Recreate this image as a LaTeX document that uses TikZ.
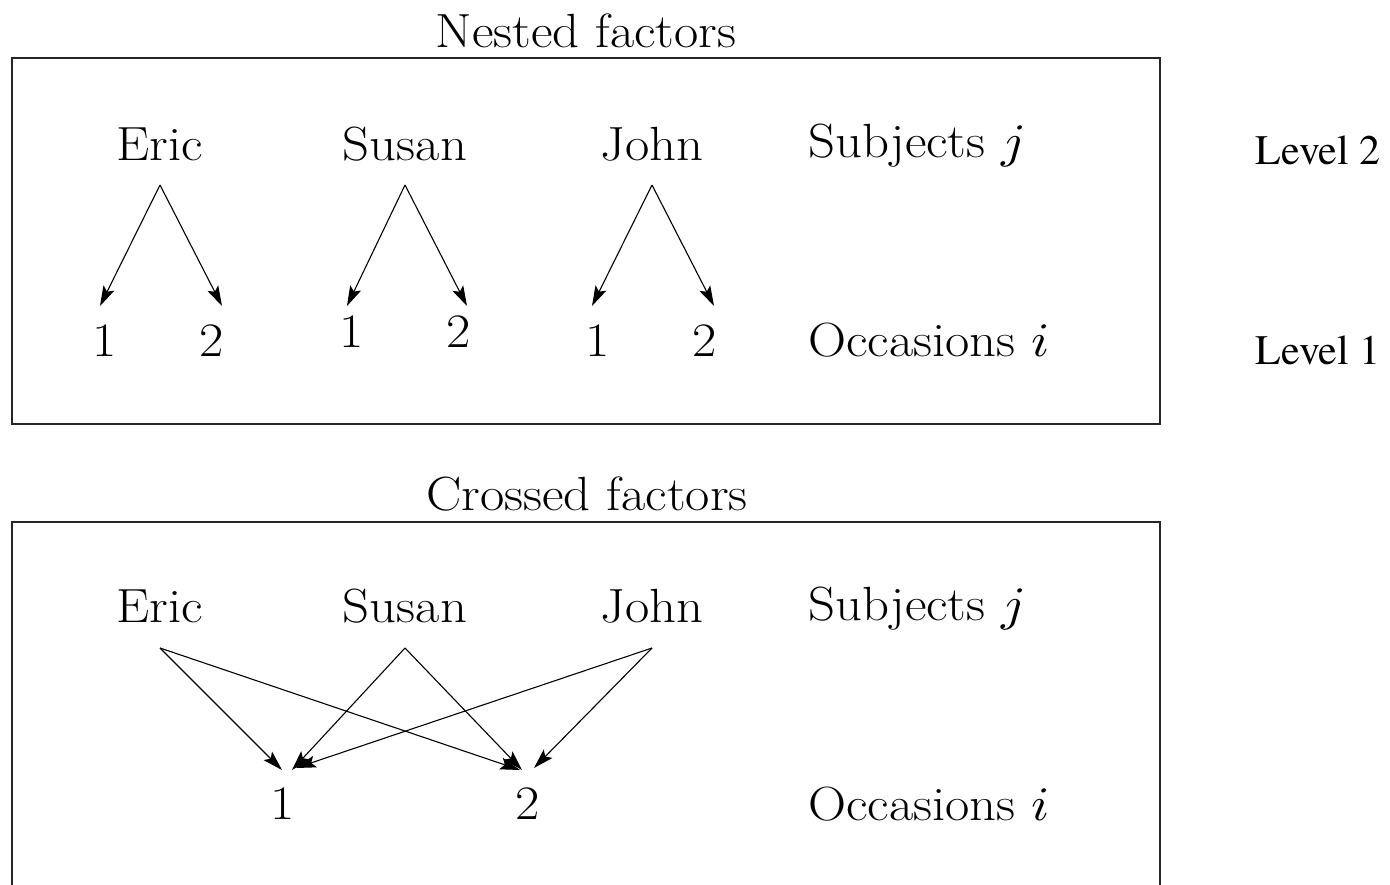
\documentclass[tikz,border=0pt]{standalone}
\usepackage{unicode-math}
\setmathfont{Latin Modern Math}
\newfontfamily\timesfont{texgyretermes-regular.otf}
\usetikzlibrary{arrows.meta}
\begin{document}
\begin{tikzpicture}[x=1pt,y=-1pt,
  lbl/.style={inner sep=0pt,font=\fontsize{48}{56}\selectfont,xscale=1.1,transform shape},
  lvl/.style={inner sep=0pt,font=\timesfont\fontsize{42}{50}\selectfont},
  frame/.style={line width=1.4pt,draw=black!85},
  arr/.style={line width=1.1pt,-{Stealth[length=20pt,width=12pt,inset=4pt]}}]
\useasboundingbox (0,0) rectangle (1390,885);
% titles and frames
\node[lbl] (tnest) at (586,31) {Nested factors};
\node[lbl] (tcross) at (587,494) {Crossed factors};
\draw[frame] (12,58) rectangle (1160,424);
\draw[frame] (12,895) -- (12,522) -- (1160,522) -- (1160,895);
% nested
\node[lbl,anchor=base] (e1) at (160,161) {Eric};
\node[lbl,anchor=base] (s1) at (405,161) {Susan};
\node[lbl,anchor=base] (j1) at (652,161) {John};
\node[lbl,anchor=base west] (subj1) at (808,158) {Subjects $j$};
\node[lbl,anchor=base] (n11) at (105,356) {1};
\node[lbl,anchor=base] (n12) at (212,356) {2};
\node[lbl,anchor=base] (n21) at (352,348) {1};
\node[lbl,anchor=base] (n22) at (459,348) {2};
\node[lbl,anchor=base] (n31) at (598,356) {1};
\node[lbl,anchor=base] (n32) at (705,356) {2};
\node[lbl,anchor=base west] (occ1) at (808,357) {Occasions $i$};
\node[lvl] (lv2) at (1318,150) {Level 2};
\node[lvl] (lv1) at (1318,350) {Level 1};
\coordinate (ea) at (160,185);
\coordinate (sa) at (405,185);
\coordinate (ja) at (652,185);
\coordinate (e1l) at (100,306);
\coordinate (e1r) at (222,306);
\coordinate (s1l) at (347,306);
\coordinate (s1r) at (467,306);
\coordinate (j1l) at (592,306);
\coordinate (j1r) at (714,306);
\draw[arr] (ea) -- (e1l);
\draw[arr] (ea) -- (e1r);
\draw[arr] (sa) -- (s1l);
\draw[arr] (sa) -- (s1r);
\draw[arr] (ja) -- (j1l);
\draw[arr] (ja) -- (j1r);
% crossed
\node[lbl,anchor=base] (e2) at (160,622) {Eric};
\node[lbl,anchor=base] (s2) at (405,622) {Susan};
\node[lbl,anchor=base] (j2) at (652,622) {John};
\node[lbl,anchor=base west] (subj2) at (808,620) {Subjects $j$};
\node[lbl,anchor=base] (c1) at (283,819) {1};
\node[lbl,anchor=base] (c2) at (528,819) {2};
\node[lbl,anchor=base west] (occ2) at (808,820) {Occasions $i$};
\coordinate (eb) at (160,648);
\coordinate (sb) at (405,648);
\coordinate (jb) at (652,648);
\coordinate (t1a) at (282,770);
\coordinate (t1b) at (292,770);
\coordinate (t1c) at (296,768);
\coordinate (t2a) at (520,770);
\coordinate (t2b) at (522,770);
\coordinate (t2c) at (534,768);
\draw[arr] (eb) -- (t1a);
\draw[arr] (eb) -- (t2a);
\draw[arr] (sb) -- (t1b);
\draw[arr] (sb) -- (t2b);
\draw[arr] (jb) -- (t1c);
\draw[arr] (jb) -- (t2c);
\end{tikzpicture}
\end{document}
